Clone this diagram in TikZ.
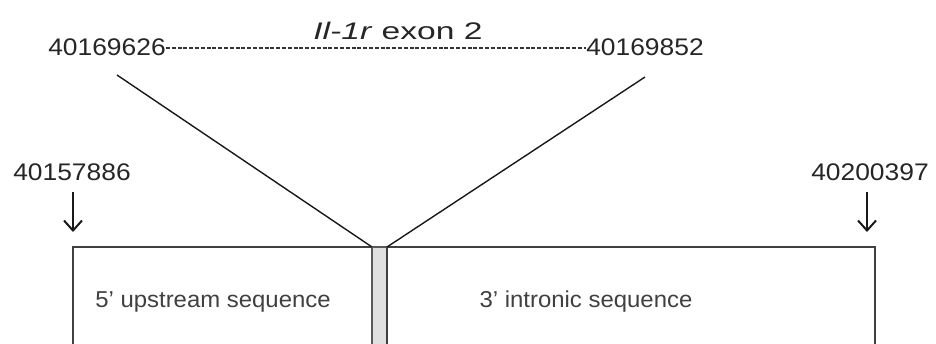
\documentclass[tikz,border=0pt]{standalone}
\usepackage{fontspec}
\setmainfont{Liberation Sans}
\usetikzlibrary{arrows.meta}
\tikzset{
  x=1pt, y=1pt,
  numlbl/.style={inner sep=0pt, font=\fontsize{24}{28}\selectfont, text=black!85},
  boxlbl/.style={inner sep=0pt, font=\fontsize{23}{28}\selectfont, text=black!75},
  seqbox/.style={draw=black!75, line width=1.8pt},
  exonstrip/.style={draw=black!65, fill=black!12, line width=1.6pt},
  diag/.style={line width=1.4pt, draw=black!90},
  posarrow/.style={line width=2pt, black!90, -{Straight Barb[length=10pt,width=18pt,line width=2pt]}},
}
\begin{document}
\begin{tikzpicture}
\useasboundingbox[fill=white] (0,0) rectangle (936,-343);
% boxes (extend below the bottom edge)
\begin{scope}
\clip (0,0) rectangle (936,-343);
\draw[seqbox] (73,-247) rectangle (372,-370);
\draw[exonstrip] (372,-247) rectangle (387,-370);
\draw[seqbox] (387,-247) rectangle (875,-370);
\end{scope}
\coordinate (lbtop) at (372,-247);
\coordinate (rbtop) at (387,-247);
% labels in boxes
\node[boxlbl] (up) at (213,-302) {\scalebox{1.04}[1]{5' upstream sequence}};
\node[boxlbl] (intr) at (586,-302) {\scalebox{1.04}[1]{3' intronic sequence}};
% exon coordinates
\node[numlbl] (n1) at (107,-47) {\scalebox{1.1}[1]{40169626}};
\node[numlbl] (n2) at (645,-47) {\scalebox{1.1}[1]{40169852}};
\node[numlbl] (title) at (398,-31) {\scalebox{1.4}[1]{\textit{Il-1r} exon 2}};
\draw[line width=1.2pt, dash pattern=on 4pt off 1.8pt, black!80] (n1.east) ++(0,-1) -- ([yshift=-1pt]n2.west);
% diagonals
\coordinate (d1) at (117,-75);
\coordinate (d2) at (645,-77);
\draw[diag] (d1) -- (lbtop);
\draw[diag] (d2) -- (rbtop);
% flanking coordinates
\node[numlbl] (p1) at (72,-172) {\scalebox{1.1}[1]{40157886}};
\node[numlbl] (p2) at (870,-172) {\scalebox{1.1}[1]{40200397}};
\coordinate (a1s) at (73,-192);
\coordinate (a1e) at (73,-232);
\coordinate (a2s) at (867,-192);
\coordinate (a2e) at (867,-232);
\draw[posarrow] (a1s) -- (a1e);
\draw[posarrow] (a2s) -- (a2e);
\end{tikzpicture}
\end{document}
